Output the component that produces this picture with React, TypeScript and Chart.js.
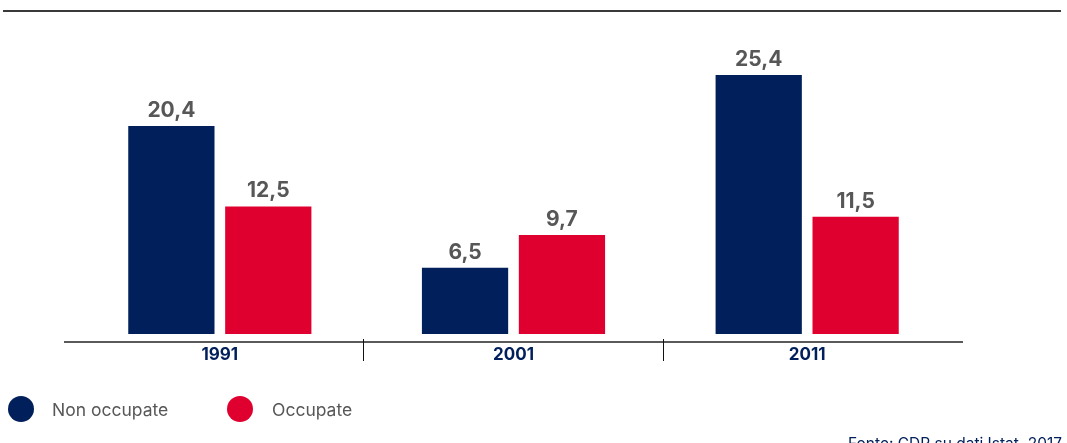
import React, { useEffect, useRef } from "react";
import { Chart, registerables } from "chart.js";

Chart.register(...registerables);

const categories = ["1991", "2001", "2011"];
const nonOccupate = [20.4, 6.5, 25.4];
const occupate = [12.5, 9.7, 11.5];
const seriesLabels = ["Non occupate", "Occupate"];
const sourceText = "Fonte: CDP su dati Istat, 2017";

const NAVY = "#001f5b";
const RED = "#e0002f";
const GRAY = "#575757";
const FONT = "Inter, 'Liberation Sans', sans-serif";

const fmt = (v: number) => v.toFixed(1).replace(".", ",");

const AXIS_LEFT = 64;
const AXIS_RIGHT = 963;

const decorPlugin = {
  id: "decor",
  afterDatasetsDraw(chart: any) {
    const ctx = chart.ctx;
    const x = chart.scales.x;
    const area = chart.chartArea;
    ctx.save();
    // top rule
    ctx.strokeStyle = "#3a3a3a";
    ctx.lineWidth = 2;
    ctx.beginPath();
    ctx.moveTo(3, 11);
    ctx.lineTo(1061, 11);
    ctx.stroke();
    // axis line
    ctx.strokeStyle = "#5a5a5a";
    ctx.lineWidth = 2;
    ctx.beginPath();
    ctx.moveTo(AXIS_LEFT, area.bottom + 8);
    ctx.lineTo(AXIS_RIGHT, area.bottom + 8);
    ctx.stroke();
    // separators
    ctx.strokeStyle = "#111";
    ctx.lineWidth = 1;
    const n = categories.length;
    for (let i = 1; i < n; i++) {
      const px = Math.floor(AXIS_LEFT + ((AXIS_RIGHT - AXIS_LEFT) * i) / n) + 0.5;
      ctx.beginPath();
      ctx.moveTo(px, area.bottom + 5);
      ctx.lineTo(px, area.bottom + 27);
      ctx.stroke();
    }
    // category labels
    ctx.fillStyle = NAVY;
    ctx.font = `bold 17px ${FONT}`;
    ctx.textAlign = "center";
    ctx.textBaseline = "middle";
    categories.forEach((c, i) => {
      ctx.fillText(c, x.getPixelForValue(i), area.bottom + 21);
    });
    // value labels
    ctx.fillStyle = GRAY;
    ctx.font = `bold 21px ${FONT}`;
    ctx.textBaseline = "alphabetic";
    chart.data.datasets.forEach((ds: any, di: number) => {
      const meta = chart.getDatasetMeta(di);
      meta.data.forEach((bar: any, i: number) => {
        ctx.fillText(fmt(ds.data[i]), bar.x, bar.y - 9);
      });
    });
    // legend
    const legendItems = [
      { label: seriesLabels[0], color: NAVY, cx: 21, tx: 52 },
      { label: seriesLabels[1], color: RED, cx: 240, tx: 272 },
    ];
    ctx.font = `17.5px ${FONT}`;
    ctx.textAlign = "left";
    ctx.textBaseline = "middle";
    legendItems.forEach((it) => {
      ctx.fillStyle = it.color;
      ctx.beginPath();
      ctx.arc(it.cx, 409, 13, 0, Math.PI * 2);
      ctx.fill();
      ctx.fillStyle = GRAY;
      ctx.fillText(it.label, it.tx, 411);
    });
    // source
    ctx.fillStyle = NAVY;
    ctx.font = `15.5px ${FONT}`;
    ctx.textAlign = "right";
    ctx.textBaseline = "alphabetic";
    ctx.fillText(sourceText, 1062, 449);
    ctx.restore();
  },
};

export default function App() {
  const ref = useRef<HTMLCanvasElement>(null);
  useEffect(() => {
    if (!ref.current) return;
    const chart = new Chart(ref.current, {
      type: "bar",
      data: {
        labels: categories,
        datasets: [
          {
            label: seriesLabels[0],
            data: nonOccupate,
            backgroundColor: NAVY,
            barPercentage: 0.89,
            categoryPercentage: 0.66,
          },
          {
            label: seriesLabels[1],
            data: occupate,
            backgroundColor: RED,
            barPercentage: 0.89,
            categoryPercentage: 0.66,
          },
        ],
      },
      options: {
        animation: false,
        responsive: false,
        maintainAspectRatio: false,
        layout: { padding: { left: 73, right: 113, top: 30, bottom: 109 } },
        plugins: { legend: { display: false }, tooltip: { enabled: false } },
        scales: {
          x: { display: false },
          y: { display: false, min: 0, max: 29.8 },
        },
      },
      plugins: [decorPlugin],
    });
    return () => chart.destroy();
  }, []);
  return (
    <div style={{ position: "fixed", left: 0, top: 0, width: 1067, height: 443, background: "#fff" }}>
      <canvas ref={ref} width={1067} height={443} style={{ width: 1067, height: 443 }} />
    </div>
  );
}
